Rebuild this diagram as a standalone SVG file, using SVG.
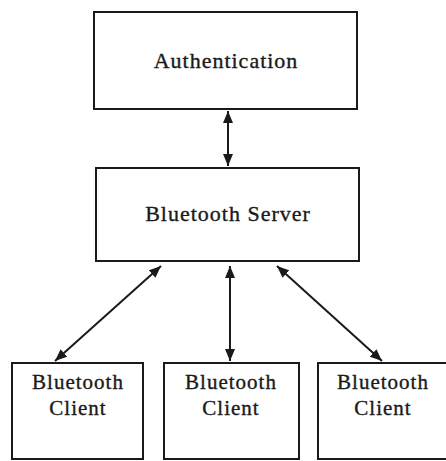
<svg xmlns="http://www.w3.org/2000/svg" width="446" height="461" viewBox="0 0 446 461">
  <style>
    .box { fill: #ffffff; stroke: #1a1a1a; stroke-width: 2; }
    .label { font-family: "Liberation Serif", "Times New Roman", serif; fill: #1a1a1a; stroke: #1a1a1a; stroke-width: 0.35; text-anchor: middle; letter-spacing: 1px; }
    .big { font-size: 22px; }
    .small { font-size: 21px; }
    .link { stroke: #1a1a1a; stroke-width: 2; fill: none; marker-start: url(#head); marker-end: url(#head); }
  </style>
  <defs>
    <marker id="head" viewBox="0 0 12 10" refX="12" refY="5" markerWidth="6" markerHeight="5" orient="auto-start-reverse" markerUnits="strokeWidth">
      <path d="M0,0 L12,5 L0,10 z" fill="#1a1a1a"/>
    </marker>
  </defs>

  <g id="authentication">
    <rect class="box" x="94" y="12" width="263" height="97"/>
    <text class="label big" x="226" y="68">Authentication</text>
  </g>

  <g id="bluetooth-server">
    <rect class="box" x="96" y="168" width="263" height="93"/>
    <text class="label big" x="228" y="221">Bluetooth Server</text>
  </g>

  <g id="client-1">
    <rect class="box" x="12" y="363" width="131" height="96"/>
    <text class="label small" x="78" y="389">Bluetooth</text>
    <text class="label small" x="78" y="415">Client</text>
  </g>

  <g id="client-2">
    <rect class="box" x="164" y="363" width="135" height="96"/>
    <text class="label small" x="231" y="389">Bluetooth</text>
    <text class="label small" x="231" y="415">Client</text>
  </g>

  <g id="client-3">
    <rect class="box" x="318" y="363" width="132" height="96"/>
    <text class="label small" x="383" y="389">Bluetooth</text>
    <text class="label small" x="383" y="415">Client</text>
  </g>

  <g id="connectors">
    <line class="link" x1="228" y1="111" x2="228" y2="166"/>
    <line class="link" x1="161" y1="266" x2="55" y2="361"/>
    <line class="link" x1="230" y1="266" x2="230" y2="361"/>
    <line class="link" x1="277" y1="266" x2="382" y2="361"/>
  </g>
</svg>
